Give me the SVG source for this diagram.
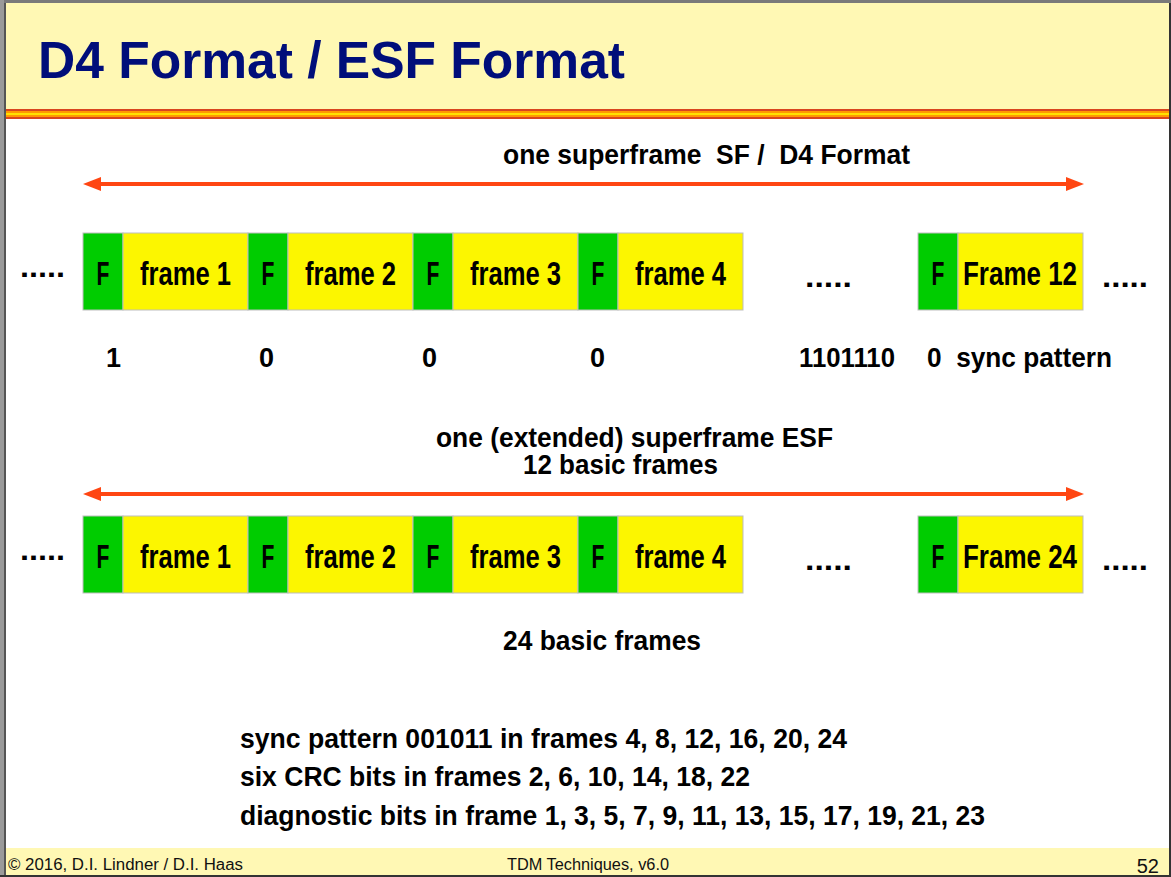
<svg xmlns="http://www.w3.org/2000/svg" width="1171" height="877" viewBox="0 0 1171 877">
<defs>
<style>
.t{font-family:"Liberation Sans",Arial,sans-serif;font-weight:bold;fill:#000;white-space:pre}
.bx{font-size:34px;text-anchor:middle}
.lb{font-size:27px}
.ft{font-family:"Liberation Sans",Arial,sans-serif;font-size:16px;fill:#111}
.fg{fill:#00CC00;stroke:#BDBDBD;stroke-width:1}
.fy{fill:#FCF600;stroke:#BDBDBD;stroke-width:1}
.ar{stroke:#FF4612;stroke-width:4;fill:none}
</style>
<marker id="ah" markerUnits="userSpaceOnUse" markerWidth="18" markerHeight="14" refX="4" refY="7" orient="auto-start-reverse">
<path d="M0,0 L18,7 L0,14 z" fill="#FF4612"/>
</marker>
</defs>

<!-- background and border -->
<rect x="0" y="0" width="1171" height="877" fill="#FFFFFF"/>
<rect x="6" y="3" width="1163" height="106" fill="#FFF8B4"/>
<rect x="6" y="848" width="1163" height="27" fill="#FFF8B4"/>
<rect x="6" y="109" width="1163" height="2" fill="#D9451E"/>
<rect x="6" y="111" width="1163" height="2" fill="#FF9A00"/>
<rect x="6" y="113" width="1163" height="2" fill="#FFE200"/>
<rect x="6" y="115" width="1163" height="2" fill="#FF9A00"/>
<rect x="6" y="117" width="1163" height="2" fill="#D9451E"/>
<rect x="0" y="0" width="1171" height="3" fill="#7A7A7A"/>
<rect x="0" y="0" width="4" height="877" fill="#9A9A9A"/>
<rect x="4" y="3" width="2" height="874" fill="#555555"/>
<rect x="1169" y="3" width="2" height="874" fill="#333333"/>
<rect x="0" y="875" width="1171" height="2" fill="#333333"/>

<!-- title -->
<text class="t" x="38" y="78" font-size="52" style="fill:#000E7A" textLength="587" lengthAdjust="spacingAndGlyphs">D4 Format / ESF Format</text>

<!-- connectors -->
<g id="connectors">
<line class="ar" x1="97" y1="184" x2="1070" y2="184" marker-start="url(#ah)" marker-end="url(#ah)"/>
<line class="ar" x1="97" y1="494" x2="1070" y2="494" marker-start="url(#ah)" marker-end="url(#ah)"/>
</g>

<!-- row 1 -->
<text class="t" x="20" y="277" font-size="30" textLength="45" lengthAdjust="spacingAndGlyphs">.....</text>
<g id="sf-frame1">
<rect class="fg" x="83" y="233" width="40" height="77"/><rect class="fy" x="123" y="233" width="125" height="77"/>
<text class="t bx" transform="translate(103,285) scale(0.62,1)">F</text>
<text class="t bx" transform="translate(185.5,285) scale(0.753,1)">frame 1</text>
</g>
<g id="sf-frame2">
<rect class="fg" x="248" y="233" width="40" height="77"/><rect class="fy" x="288" y="233" width="125" height="77"/>
<text class="t bx" transform="translate(268,285) scale(0.62,1)">F</text>
<text class="t bx" transform="translate(350.5,285) scale(0.753,1)">frame 2</text>
</g>
<g id="sf-frame3">
<rect class="fg" x="413" y="233" width="40" height="77"/><rect class="fy" x="453" y="233" width="125" height="77"/>
<text class="t bx" transform="translate(433,285) scale(0.62,1)">F</text>
<text class="t bx" transform="translate(515.5,285) scale(0.753,1)">frame 3</text>
</g>
<g id="sf-frame4">
<rect class="fg" x="578" y="233" width="40" height="77"/><rect class="fy" x="618" y="233" width="125" height="77"/>
<text class="t bx" transform="translate(598,285) scale(0.62,1)">F</text>
<text class="t bx" transform="translate(680.5,285) scale(0.753,1)">frame 4</text>
</g>
<text class="t" x="805" y="287" font-size="30" textLength="47" lengthAdjust="spacingAndGlyphs">.....</text>
<g id="sf-frame12">
<rect class="fg" x="918" y="233" width="40" height="77"/><rect class="fy" x="958" y="233" width="125" height="77"/>
<text class="t bx" transform="translate(938,285) scale(0.62,1)">F</text>
<text class="t bx" transform="translate(1020,285) scale(0.764,1)">Frame 12</text>
</g>
<text class="t" x="1102" y="287" font-size="30" textLength="46" lengthAdjust="spacingAndGlyphs">.....</text>

<!-- labels row 1 -->
<text class="t lb" x="503" y="164" textLength="407" lengthAdjust="spacingAndGlyphs">one superframe  SF /  D4 Format</text>
<text class="t lb" x="106" y="367">1</text>
<text class="t lb" x="259" y="367">0</text>
<text class="t lb" x="422" y="367">0</text>
<text class="t lb" x="590" y="367">0</text>
<text class="t lb" x="799" y="367" textLength="96" lengthAdjust="spacingAndGlyphs">1101110</text>
<text class="t lb" x="927" y="367" textLength="185" lengthAdjust="spacingAndGlyphs">0  sync pattern</text>

<!-- ESF -->
<text class="t lb" x="436" y="447" textLength="397" lengthAdjust="spacingAndGlyphs">one (extended) superframe ESF</text>
<text class="t lb" x="523" y="474" textLength="195" lengthAdjust="spacingAndGlyphs">12 basic frames</text>

<text class="t" x="20" y="560" font-size="30" textLength="45" lengthAdjust="spacingAndGlyphs">.....</text>
<g id="esf-frame1">
<rect class="fg" x="83" y="516" width="40" height="77"/><rect class="fy" x="123" y="516" width="125" height="77"/>
<text class="t bx" transform="translate(103,568) scale(0.62,1)">F</text>
<text class="t bx" transform="translate(185.5,568) scale(0.753,1)">frame 1</text>
</g>
<g id="esf-frame2">
<rect class="fg" x="248" y="516" width="40" height="77"/><rect class="fy" x="288" y="516" width="125" height="77"/>
<text class="t bx" transform="translate(268,568) scale(0.62,1)">F</text>
<text class="t bx" transform="translate(350.5,568) scale(0.753,1)">frame 2</text>
</g>
<g id="esf-frame3">
<rect class="fg" x="413" y="516" width="40" height="77"/><rect class="fy" x="453" y="516" width="125" height="77"/>
<text class="t bx" transform="translate(433,568) scale(0.62,1)">F</text>
<text class="t bx" transform="translate(515.5,568) scale(0.753,1)">frame 3</text>
</g>
<g id="esf-frame4">
<rect class="fg" x="578" y="516" width="40" height="77"/><rect class="fy" x="618" y="516" width="125" height="77"/>
<text class="t bx" transform="translate(598,568) scale(0.62,1)">F</text>
<text class="t bx" transform="translate(680.5,568) scale(0.753,1)">frame 4</text>
</g>
<text class="t" x="805" y="570" font-size="30" textLength="47" lengthAdjust="spacingAndGlyphs">.....</text>
<g id="esf-frame24">
<rect class="fg" x="918" y="516" width="40" height="77"/><rect class="fy" x="958" y="516" width="125" height="77"/>
<text class="t bx" transform="translate(938,568) scale(0.62,1)">F</text>
<text class="t bx" transform="translate(1020,568) scale(0.764,1)">Frame 24</text>
</g>
<text class="t" x="1102" y="570" font-size="30" textLength="46" lengthAdjust="spacingAndGlyphs">.....</text>

<text class="t lb" x="503" y="650" textLength="198" lengthAdjust="spacingAndGlyphs">24 basic frames</text>

<!-- notes -->
<text class="t lb" x="240" y="748" textLength="607" lengthAdjust="spacingAndGlyphs">sync pattern 001011 in frames 4, 8, 12, 16, 20, 24</text>
<text class="t lb" x="240" y="786" textLength="510" lengthAdjust="spacingAndGlyphs">six CRC bits in frames 2, 6, 10, 14, 18, 22</text>
<text class="t lb" x="240" y="825" textLength="745" lengthAdjust="spacingAndGlyphs">diagnostic bits in frame 1, 3, 5, 7, 9, 11, 13, 15, 17, 19, 21, 23</text>

<!-- footer -->
<text class="ft" x="8" y="870" textLength="235" lengthAdjust="spacingAndGlyphs">© 2016, D.I. Lindner / D.I. Haas</text>
<text class="ft" x="507" y="870" textLength="162" lengthAdjust="spacingAndGlyphs">TDM Techniques, v6.0</text>
<text class="ft" x="1159" y="873" style="font-size:20px" text-anchor="end">52</text>
</svg>
